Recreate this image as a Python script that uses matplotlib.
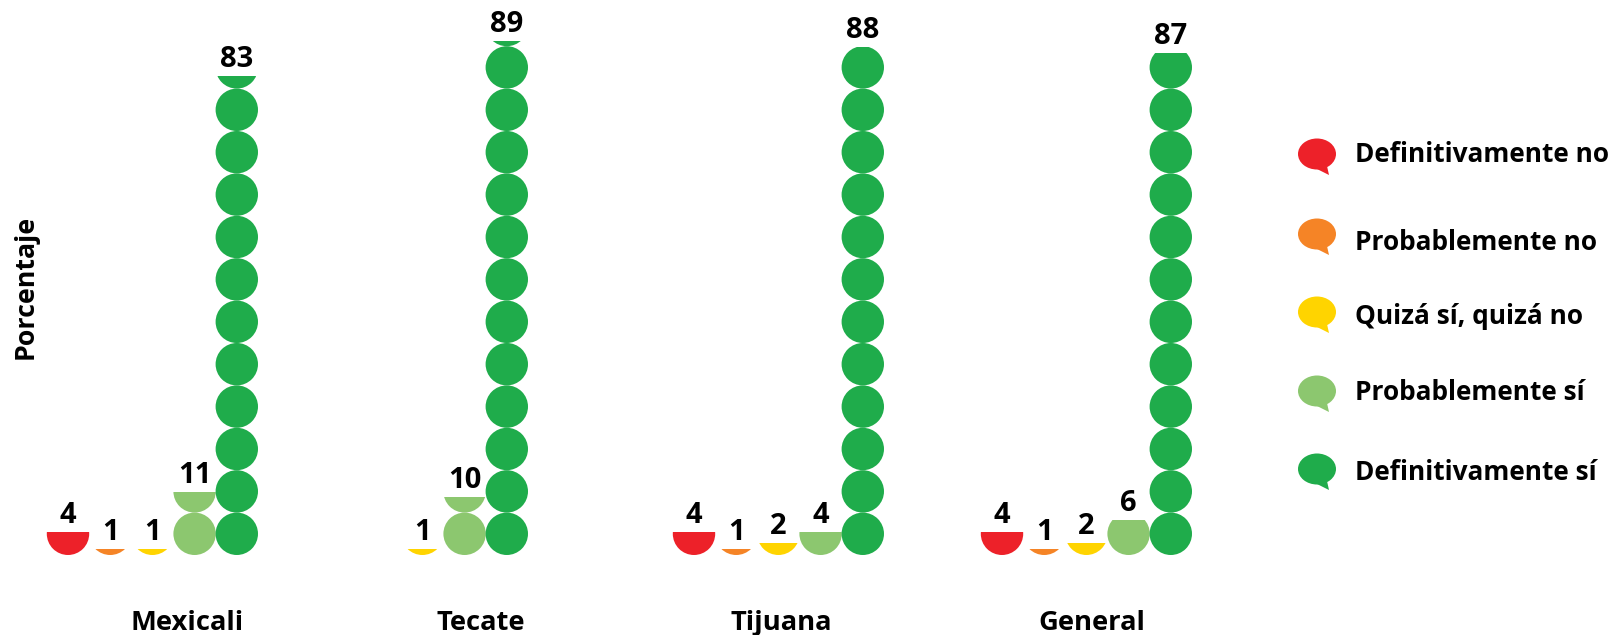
import math
import matplotlib
matplotlib.use("Agg")
import matplotlib.pyplot as plt
from matplotlib.patches import Ellipse, Polygon, Rectangle

# Survey results, percent of answers per city
cities = ["Mexicali", "Tecate", "Tijuana", "General"]
answers = ["Definitivamente no", "Probablemente no", "Quizá sí, quizá no",
           "Probablemente sí", "Definitivamente sí"]
mexicali = [4, 1, 1, 11, 83]
tecate = [0, 0, 1, 10, 89]
tijuana = [4, 1, 2, 4, 88]
general = [4, 1, 2, 6, 87]
series = [mexicali, tecate, tijuana, general]
colors = ["#ED2129", "#F58426", "#FFD400", "#8CC76F", "#1FAC4B"]

# Layout, in figure pixels
W, H = 1610, 635
BASE_PX = 555        # pixel row of the zero line
PX_PER_PCT = 5.77    # vertical scale
CIRCLE_PX = 42.4     # token diameter
STEP_PX = 42.2       # distance between neighbouring columns
PCT_PER_TOKEN = CIRCLE_PX / PX_PER_PCT
group_left = [68, 338, 694, 1002]
label_x = [187, 481, 781, 1092]
legend_rows = [154, 234, 312, 391, 469]
legend_text_rows = [155, 243, 316, 393, 472]

plt.rcParams["font.family"] = ["Open Sans", "DejaVu Sans"]
plt.rcParams["font.weight"] = "bold"

fig = plt.figure(figsize=(W / 100, H / 100), dpi=100, facecolor="white")

# Marks: x in pixels, y in percent
ax = fig.add_axes([0, 0, 1, 1])
ax.set_xlim(0, W)
ax.set_ylim(-(H - BASE_PX) / PX_PER_PCT, BASE_PX / PX_PER_PCT)
ax.axis("off")


def draw_column(x, value, color):
    """Stack round tokens up to the value, cutting the last one at the value."""
    tokens = math.ceil(value / PCT_PER_TOKEN)
    clip = Rectangle((x - CIRCLE_PX, 0), 2 * CIRCLE_PX, value, transform=ax.transData)
    for i in range(tokens):
        token = Ellipse((x, (i + 0.5) * PCT_PER_TOKEN), CIRCLE_PX, PCT_PER_TOKEN,
                        facecolor=color, edgecolor="none", zorder=2)
        ax.add_patch(token)
        token.set_clip_path(clip)
    ax.text(x, value + 16.5 / PX_PER_PCT, str(value), ha="center", va="center",
            fontsize=21, color="black", zorder=3)


for left, values in zip(group_left, series):
    for j, (value, color) in enumerate(zip(values, colors)):
        if value > 0:
            draw_column(left + j * STEP_PX, value, color)

# Captions and legend: pixel coordinates, y pointing down
overlay = fig.add_axes([0, 0, 1, 1])
overlay.set_xlim(0, W)
overlay.set_ylim(H, 0)
overlay.axis("off")
overlay.patch.set_alpha(0)

for x, city in zip(label_x, cities):
    overlay.text(x, 623, city, ha="center", va="center", fontsize=19.7, color="black")

overlay.text(26, 287, "Porcentaje", rotation=90, ha="center", va="center",
             fontsize=19.3, color="black")

for cy, ty, name, color in zip(legend_rows, legend_text_rows, answers, colors):
    overlay.add_patch(Ellipse((1317, cy), 38, 31, facecolor=color, edgecolor="none"))
    overlay.add_patch(Polygon([(1315, cy + 14), (1329, cy + 21), (1327, cy + 12)],
                              closed=True, facecolor=color, edgecolor="none"))
    overlay.text(1355, ty, name, ha="left", va="center", fontsize=18.9, color="black")

fig.savefig("out.png", dpi=100, facecolor="white")
